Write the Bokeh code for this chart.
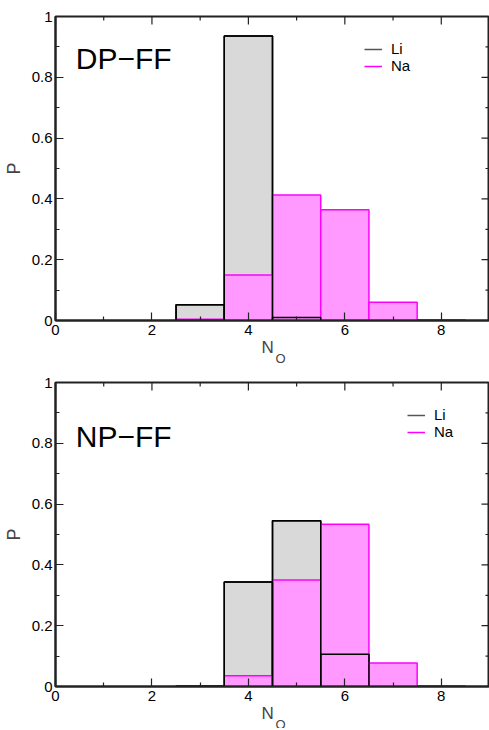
from bokeh.plotting import figure
from bokeh.models import (Range1d, FixedTicker, LinearAxis, Label, Legend, LegendItem,
                          ColumnDataSource, Title)
from bokeh.layouts import column
from bokeh.embed import file_html
from bokeh.resources import INLINE

# ---- data ----
n_o = [3, 4, 5, 6, 7, 8]
dp_li = [0.052, 0.936, 0.010, 0.0, 0.0, 0.0]
dp_na = [0.004, 0.150, 0.413, 0.364, 0.060, 0.002]
np_li = [0.001, 0.344, 0.545, 0.106, 0.0, 0.0]
np_na = [0.0, 0.035, 0.350, 0.534, 0.077, 0.002]

x_ticks = [0, 2, 4, 6, 8]
x_minor = [1, 3, 5, 7, 9]
y_ticks = [0, 0.2, 0.4, 0.6, 0.8, 1]
y_labels = ["0", "0.2", "0.4", "0.6", "0.8", "1"]
y_minor = [0.1, 0.3, 0.5, 0.7, 0.9]
X_MAX = 9
Y_MAX = 1

FONT = "Liberation Sans"
LI_FILL = "#d9d9d9"
NA_FILL = "#ff99ff"
NA_LINE = "#ff00ff"
AX = "#222222"
FW, FH = 434, 304
NAN = float("nan")


def style_axis(ax, ticks, minor, labels=None):
    ax.ticker = FixedTicker(ticks=ticks, minor_ticks=minor)
    ax.major_tick_in = 8
    ax.major_tick_out = 0
    ax.minor_tick_in = 4
    ax.minor_tick_out = 0
    ax.major_tick_line_color = AX
    ax.minor_tick_line_color = AX
    ax.major_tick_line_width = 1.2
    ax.minor_tick_line_width = 1.2
    ax.axis_line_color = AX
    ax.axis_line_width = 2
    ax.major_label_text_font = FONT
    ax.major_label_text_color = "black"
    ax.major_label_text_font_size = "15px"
    if labels is not None:
        ax.major_label_overrides = {t: l for t, l in zip(ticks, labels)}


def make_panel(li, na, title, title_y, leg_x, leg_y, top_border, bottom_border):
    p = figure(frame_width=FW, frame_height=FH, output_backend="svg",
               toolbar_location=None,
               x_range=Range1d(0, X_MAX), y_range=Range1d(0, Y_MAX),
               min_border_left=47, min_border_right=0,
               min_border_top=top_border, min_border_bottom=bottom_border,
               x_axis_type=None, y_axis_type=None)
    p.grid.visible = False
    p.outline_line_color = AX
    p.outline_line_width = 2
    p.background_fill_color = "white"
    p.border_fill_color = "white"

    xb = LinearAxis()
    style_axis(xb, x_ticks, x_minor)
    xb.major_label_standoff = 4
    p.add_layout(xb, "below")
    # x axis label: N with subscript O
    p.add_layout(Title(text="N", align="left", offset=206, standoff=0,
                       vertical_align="top",
                       text_font=FONT, text_font_size="17px",
                       text_font_style="normal"), "below")
    p.add_layout(Title(text="O", align="left", offset=220, standoff=-16,
                       vertical_align="top",
                       text_font=FONT, text_font_size="13px",
                       text_font_style="normal"), "below")

    yl = LinearAxis(axis_label="P")
    style_axis(yl, y_ticks, y_minor, y_labels)
    yl.major_label_standoff = 3
    yl.axis_label_text_font = FONT
    yl.axis_label_text_font_style = "normal"
    yl.axis_label_text_font_size = "18px"
    yl.axis_label_standoff = 5
    p.add_layout(yl, "left")

    # inward ticks on the top and right frame edges
    sx = X_MAX / FW
    sy = Y_MAX / FH
    p.segment(x0=x_ticks, x1=x_ticks, y0=[Y_MAX] * len(x_ticks),
              y1=[Y_MAX - 8 * sy] * len(x_ticks), line_color=AX, line_width=1.2)
    p.segment(x0=x_minor, x1=x_minor, y0=[Y_MAX] * len(x_minor),
              y1=[Y_MAX - 4 * sy] * len(x_minor), line_color=AX, line_width=1.2)
    p.segment(x0=[X_MAX] * len(y_ticks), x1=[X_MAX - 8 * sx] * len(y_ticks),
              y0=y_ticks, y1=y_ticks, line_color=AX, line_width=1.2)
    p.segment(x0=[X_MAX] * len(y_minor), x1=[X_MAX - 4 * sx] * len(y_minor),
              y0=y_minor, y1=y_minor, line_color=AX, line_width=1.2)

    src = ColumnDataSource(dict(
        left=[v - 0.5 for v in n_o], right=[v + 0.5 for v in n_o],
        li=li, na=na, zero=[0] * len(n_o)))
    p.quad(left="left", right="right", bottom="zero", top="li", source=src,
           fill_color=LI_FILL, line_color="black", line_width=1.5)
    p.quad(left="left", right="right", bottom="zero", top="na", source=src,
           fill_color=NA_FILL, line_color=NA_LINE, line_width=1.5)
    p.quad(left="left", right="right", bottom="zero", top="li", source=src,
           fill_alpha=0, line_color="black", line_width=1.5)

    # legend (line samples)
    r_li = p.line(x=[NAN], y=[NAN], line_color="#555555", line_width=1.5)
    r_na = p.line(x=[NAN], y=[NAN], line_color=NA_LINE, line_width=1.5)
    leg = Legend(items=[LegendItem(label="Li", renderers=[r_li]),
                        LegendItem(label="Na", renderers=[r_na])],
                 location=(leg_x, leg_y), padding=0, margin=0, spacing=0,
                 glyph_width=18, glyph_height=16, label_height=16,
                 label_standoff=9, label_text_font=FONT,
                 label_text_font_size="15px", label_text_color="black",
                 border_line_color=None, background_fill_alpha=0)
    p.add_layout(leg)

    p.add_layout(Label(x=0.42, y=title_y, text=title, text_font=FONT,
                       text_font_size="30px", text_color="black",
                       text_baseline="alphabetic"))
    return p


p1 = make_panel(dp_li, dp_na, "DP\u2212FF", 0.862, 309, 246, 16, 47)
p2 = make_panel(np_li, np_na, "NP\u2212FF", 0.822, 352, 246, 15, 42)

layout = column(p1, p2, spacing=0)
open("out.html", "w").write(file_html(layout, INLINE))
